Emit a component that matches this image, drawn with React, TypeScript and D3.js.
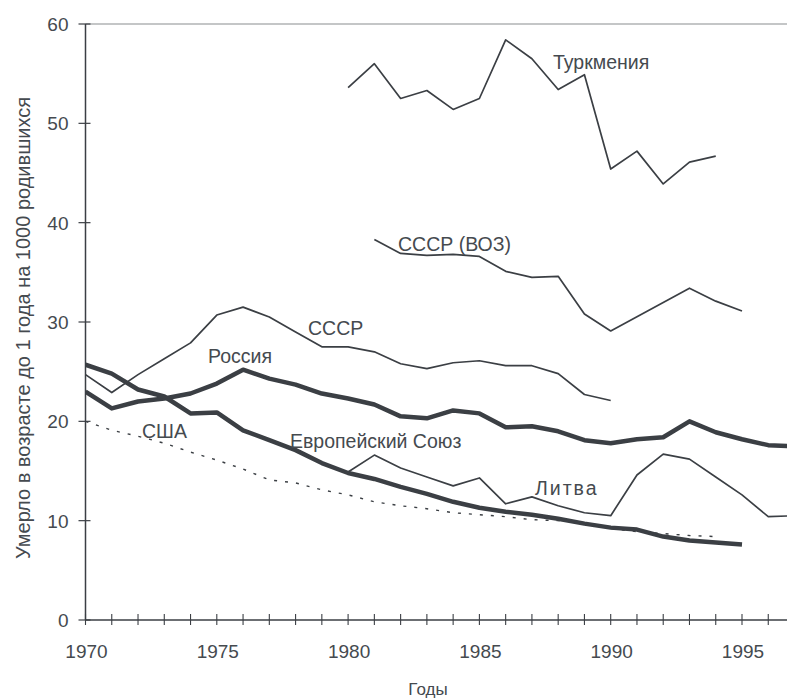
import React from "react";
import * as d3 from "d3";

const yearsTurkm = [1980, 1981, 1982, 1983, 1984, 1985, 1986, 1987, 1988, 1989, 1990, 1991, 1992, 1993, 1994];
const valuesTurkm = [53.6, 56.0, 52.5, 53.3, 51.4, 52.5, 58.4, 56.5, 53.4, 54.9, 45.4, 47.2, 43.9, 46.1, 46.7];

const yearsUssrWho = [1981, 1982, 1983, 1984, 1985, 1986, 1987, 1988, 1989, 1990, 1993, 1994, 1995];
const valuesUssrWho = [38.3, 36.9, 36.7, 36.8, 36.6, 35.1, 34.5, 34.6, 30.8, 29.1, 33.4, 32.1, 31.1];

const yearsUssr = [1970, 1971, 1972, 1973, 1974, 1975, 1976, 1977, 1978, 1979, 1980, 1981, 1982, 1983, 1984, 1985, 1986, 1987, 1988, 1989, 1990];
const valuesUssr = [24.7, 22.9, 24.7, 26.3, 27.9, 30.7, 31.5, 30.5, 29.0, 27.5, 27.5, 27.0, 25.8, 25.3, 25.9, 26.1, 25.6, 25.6, 24.8, 22.7, 22.1];

const yearsRussia = [1970, 1971, 1972, 1973, 1974, 1975, 1976, 1977, 1978, 1979, 1980, 1981, 1982, 1983, 1984, 1985, 1986, 1987, 1988, 1989, 1990, 1991, 1992, 1993, 1994, 1995, 1996, 1997];
const valuesRussia = [23.0, 21.3, 22.0, 22.3, 22.8, 23.8, 25.2, 24.3, 23.7, 22.8, 22.3, 21.7, 20.5, 20.3, 21.1, 20.8, 19.4, 19.5, 19.0, 18.1, 17.8, 18.2, 18.4, 20.0, 18.9, 18.2, 17.6, 17.5];

const yearsEu = [1970, 1971, 1972, 1973, 1974, 1975, 1976, 1977, 1978, 1979, 1980, 1981, 1982, 1983, 1984, 1985, 1986, 1987, 1988, 1989, 1990, 1991, 1992, 1993, 1994, 1995];
const valuesEu = [25.7, 24.8, 23.2, 22.5, 20.8, 20.9, 19.1, 18.1, 17.1, 15.8, 14.8, 14.2, 13.4, 12.7, 11.9, 11.3, 10.9, 10.6, 10.2, 9.7, 9.3, 9.1, 8.4, 8.0, 7.8, 7.6];

const yearsUsa = [1970, 1971, 1972, 1973, 1974, 1975, 1976, 1977, 1978, 1979, 1980, 1981, 1982, 1983, 1984, 1985, 1986, 1987, 1988, 1989, 1990, 1991, 1992, 1993, 1994];
const valuesUsa = [20.0, 19.1, 18.5, 17.8, 16.9, 16.1, 15.2, 14.1, 13.8, 13.1, 12.6, 11.9, 11.5, 11.2, 10.8, 10.6, 10.4, 10.1, 10.0, 9.8, 9.2, 8.9, 8.7, 8.5, 8.4];

const yearsLith = [1980, 1981, 1982, 1983, 1984, 1985, 1986, 1987, 1988, 1989, 1990, 1991, 1992, 1993, 1994, 1995, 1996, 1997];
const valuesLith = [14.9, 16.6, 15.3, 14.4, 13.5, 14.3, 11.7, 12.4, 11.5, 10.8, 10.5, 14.6, 16.7, 16.2, 14.4, 12.6, 10.4, 10.5];

const yTicks = [0, 10, 20, 30, 40, 50, 60];
const xTickLabels = [1970, 1975, 1980, 1985, 1990, 1995];
const xMinorTicks = d3.range(1970, 1997);

const W = 787;
const H = 698;
const font = "'Liberation Sans', Arial, sans-serif";
const ink = "#3b3f44";
const textInk = "#454a4f";

export default function App() {
  const x = d3.scaleLinear().domain([1970, 1995]).range([85.5, 742]);
  const y = d3.scaleLinear().domain([0, 60]).range([620, 24]);

  const mk = (ys: number[], vs: number[]) =>
    d3.line<number>().x((_, i) => x(ys[i])).y((v) => y(v))(vs) || "";

  const series = [
    { d: mk(yearsTurkm, valuesTurkm), w: 1.7, dash: undefined },
    { d: mk(yearsUssrWho, valuesUssrWho), w: 1.7, dash: undefined },
    { d: mk(yearsUssr, valuesUssr), w: 1.7, dash: undefined },
    { d: mk(yearsLith, valuesLith), w: 1.7, dash: undefined },
    { d: mk(yearsUsa, valuesUsa), w: 1.4, dash: "3 8" },
    { d: mk(yearsRussia, valuesRussia), w: 4.5, dash: undefined },
    { d: mk(yearsEu, valuesEu), w: 4.5, dash: undefined },
  ];

  const x0 = x(1970);
  const yBase = y(0);

  return (
    <svg
      width={W}
      height={H}
      style={{ position: "absolute", left: 0, top: 0, background: "#fff" }}
      fontFamily={font}
    >
      <defs>
        <clipPath id="plot">
          <rect x={x0} y={0} width={W - x0} height={yBase} />
        </clipPath>
      </defs>
      {/* top frame */}
      <line x1={x0} x2={W} y1={y(60)} y2={y(60)} stroke="#8a8d90" strokeWidth={1.2} />
      {/* y axis */}
      <line x1={x0} x2={x0} y1={y(60)} y2={yBase} stroke={ink} strokeWidth={1.5} />
      {yTicks.map((t) => (
        <g key={t}>
          <line x1={x0 - 7} x2={x0 + 5} y1={y(t)} y2={y(t)} stroke={ink} strokeWidth={1.2} />
          <text x={x0 - 17} y={y(t)} dy="0.36em" textAnchor="end" fontSize={19} fill={textInk}>
            {t}
          </text>
        </g>
      ))}
      {/* x axis */}
      <line x1={x0} x2={W} y1={yBase} y2={yBase} stroke={ink} strokeWidth={1.5} />
      {xMinorTicks.map((t) => (
        <line key={t} x1={x(t)} x2={x(t)} y1={yBase - 6} y2={yBase + 5} stroke={ink} strokeWidth={1.1} />
      ))}
      {xTickLabels.map((t) => (
        <text key={t} x={x(t) + 1} y={658} textAnchor="middle" fontSize={19} fill={textInk}>
          {t}
        </text>
      ))}
      <text x={428} y={695} textAnchor="middle" fontSize={17} fill={textInk}>
        Годы
      </text>
      <text
        transform={`translate(30, 328) rotate(-90)`}
        textAnchor="middle"
        fontSize={20}
        fill={textInk}
      >
        Умерло в возрасте до 1 года на 1000 родившихся
      </text>
      <g clipPath="url(#plot)">
        {series.map((s, i) => (
          <path
            key={i}
            d={s.d}
            fill="none"
            stroke={ink}
            strokeWidth={s.w}
            strokeDasharray={s.dash}
            strokeLinejoin="round"
          />
        ))}
      </g>
      <g fontSize={19.5} fill={textInk}>
        <text x={553} y={69}>Туркмения</text>
        <text x={398} y={251}>СССР (ВОЗ)</text>
        <text x={308} y={335}>СССР</text>
        <text x={208} y={363}>Россия</text>
        <text x={142} y={438}>США</text>
        <text x={290} y={448}>Европейский Союз</text>
        <text x={535} y={495} letterSpacing={2}>Литва</text>
      </g>
    </svg>
  );
}
